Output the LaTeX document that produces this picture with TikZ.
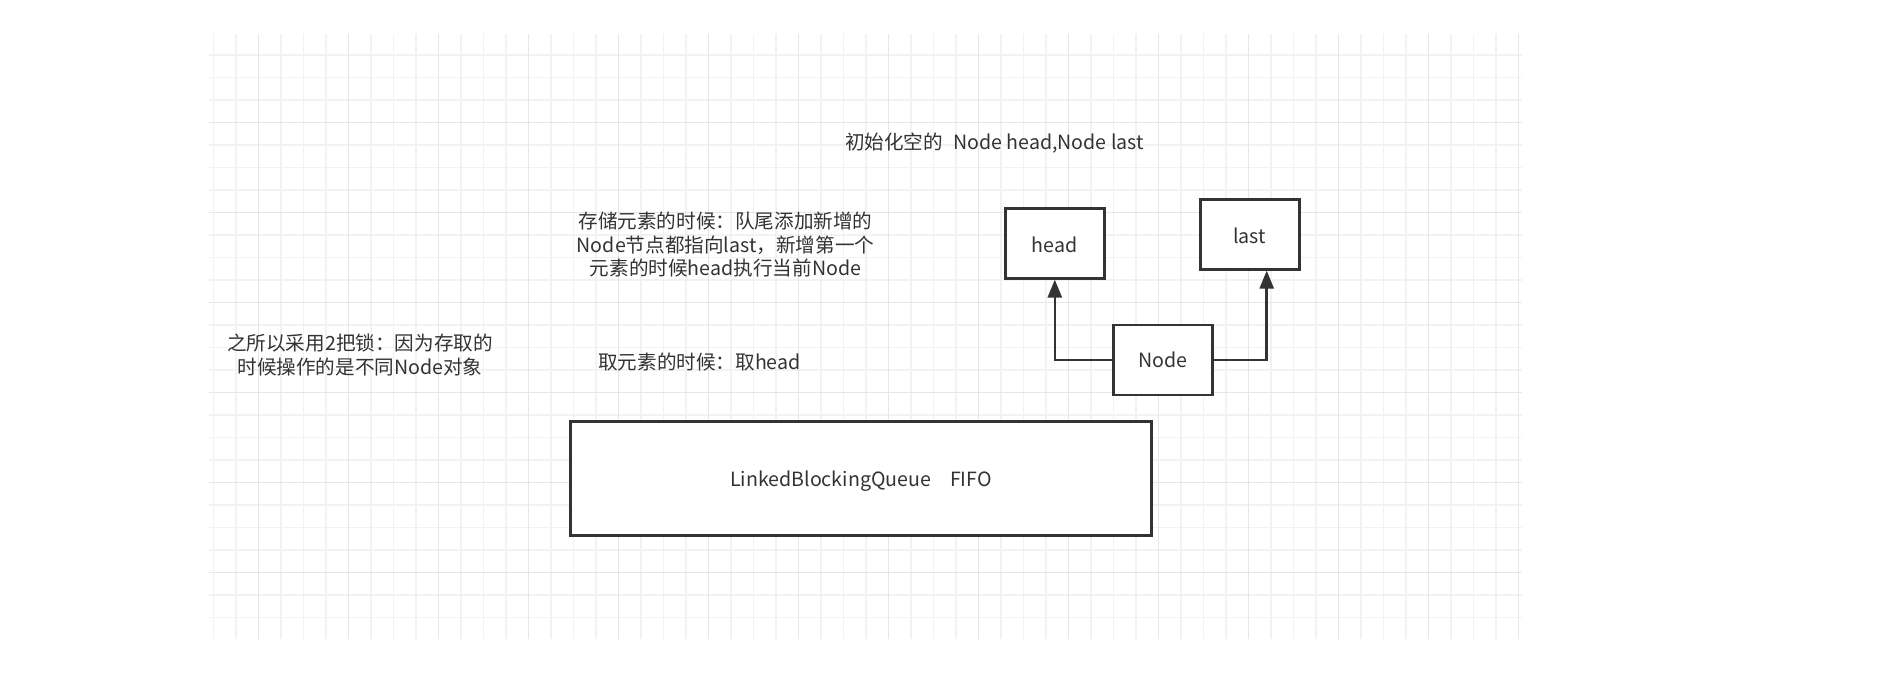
\documentclass[tikz,border=0pt]{standalone}
\usepackage{fontspec}
\setmainfont{Noto Sans CJK SC}
\usetikzlibrary{arrows.meta}
\definecolor{ink}{HTML}{333333}
\definecolor{gridminor}{HTML}{F2F2F2}
\definecolor{gridmajor}{HTML}{E6E6E6}
\tikzset{
  box/.style={draw=ink, line width=2.6pt, fill=white, text=ink, inner sep=0pt},
  label/.style={text=ink, align=center, inner sep=0pt},
  arr/.style={draw=ink, line width=2.5pt, -{Triangle[width=14pt,length=18pt]}},
}
\begin{document}
\begin{tikzpicture}[x=1pt,y=-1pt,font=\fontsize{19.6}{23.5}\selectfont]
\useasboundingbox[fill=white] (0,0) rectangle (1903,674);
% grid
\foreach \i in {0,...,58}{
  \pgfmathtruncatemacro{\m}{mod(\i,4)}
  \ifnum\m=2\else
    \draw[gridminor, line width=1.5pt] ({213.3+22.5*\i},34) -- ({213.3+22.5*\i},639);
  \fi
}
\foreach \j in {0,...,25}{
  \pgfmathtruncatemacro{\m}{mod(\j,4)}
  \ifnum\m=3\else
    \draw[gridminor, line width=1.5pt] (209,{54.8+22.5*\j}) -- (1522,{54.8+22.5*\j});
  \fi
}
\foreach \i in {2,6,...,58}{
  \draw[gridmajor, line width=1.5pt] ({213.3+22.5*\i},34) -- ({213.3+22.5*\i},639);
}
\foreach \j in {3,7,...,25}{
  \draw[gridmajor, line width=1.5pt] (209,{54.8+22.5*\j}) -- (1522,{54.8+22.5*\j});
}
% boxes
\node[box, minimum width=99pt, minimum height=70pt, text height=18pt, text depth=0pt] (head) at (1054.8,243.3) {head};
\node[box, minimum width=99pt, minimum height=70pt, text height=18pt, text depth=0pt] (last) at (1249.7,234.3) {last};
\node[box, minimum width=99pt, minimum height=70pt] (nd) at (1162.7,360) {Node};
\node[box, minimum width=581pt, minimum height=114pt, text height=17pt, text depth=2pt] (queue) at (861,478.5) {LinkedBlockingQueue\hspace*{19pt}FIFO};
% texts
\node[label] (title) at (994.5,143.3) {初始化空的\hspace*{10pt}Node head,Node last};
\node[label] (store) at (725.5,245) {存储元素的时候：队尾添加新增的\\Node节点都指向last，新增第一个\\元素的时候head执行当前Node};
\node[label] (lock) at (360,355) {之所以采用2把锁：因为存取的\\时候操作的是不同Node对象};
\node[label] (take) at (699.5,362) {取元素的时候：取head};
% connectors
\draw[arr] (nd.west) -| (head.south);
\draw[arr] (nd.east) -| ([xshift=17pt]last.south);
\end{tikzpicture}
\end{document}
